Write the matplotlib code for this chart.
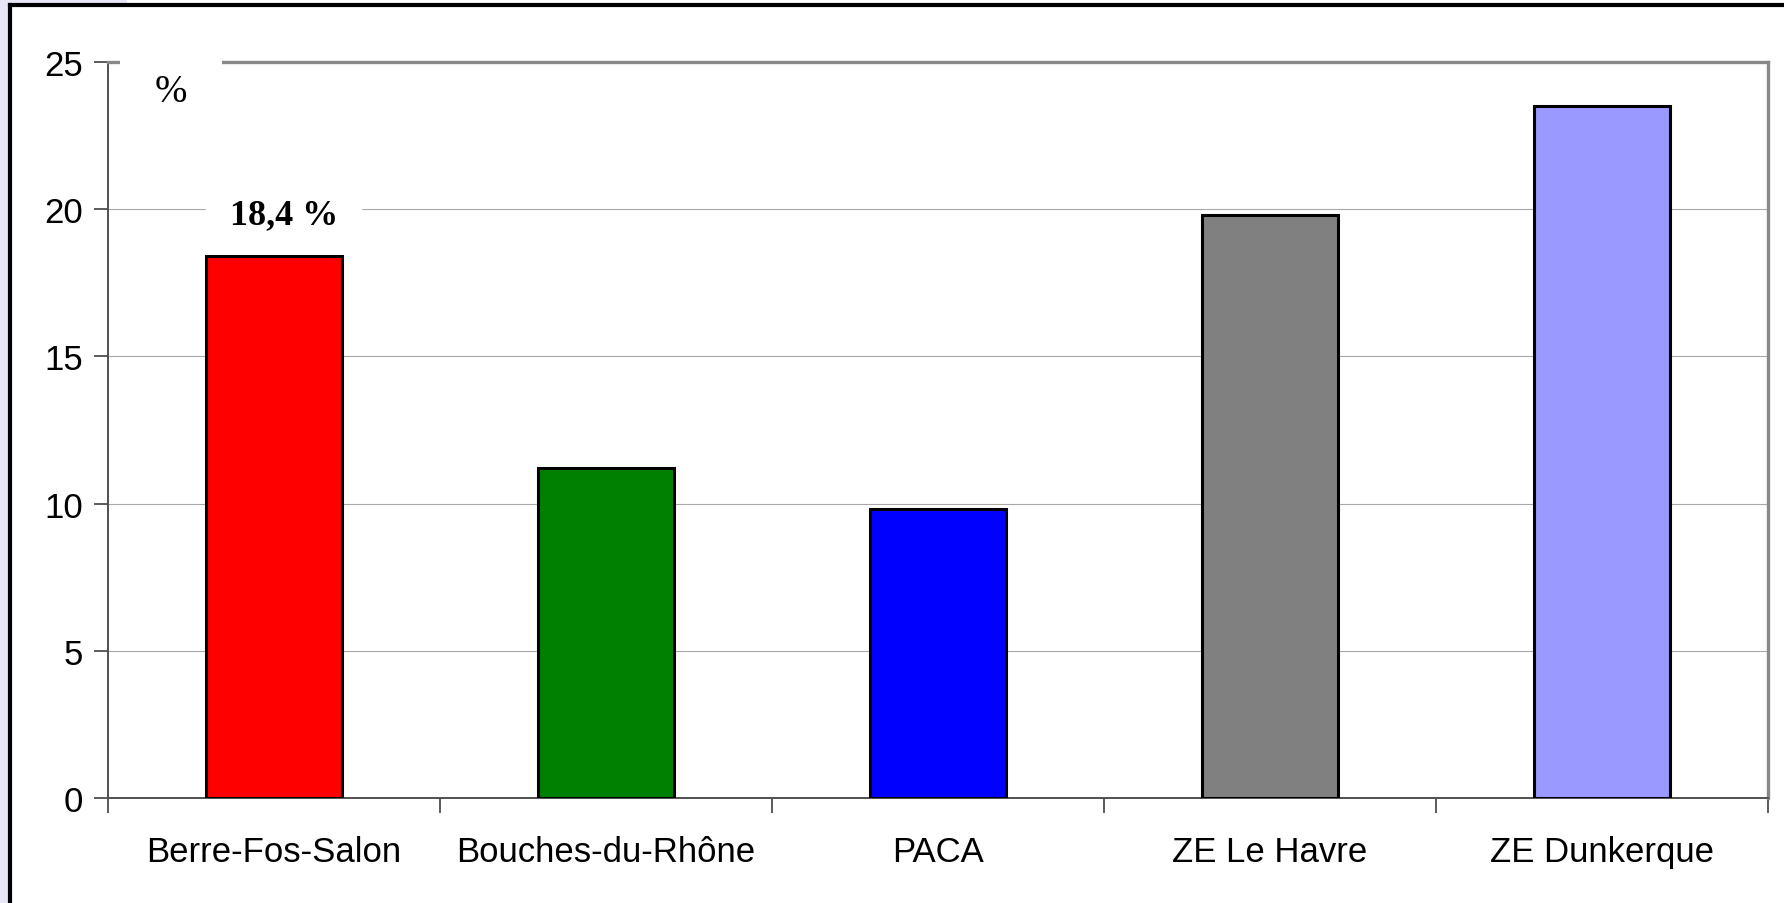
import matplotlib
matplotlib.use('Agg')
import matplotlib.pyplot as plt
from matplotlib.lines import Line2D
from matplotlib.patches import Rectangle

categories = ['Berre-Fos-Salon', 'Bouches-du-Rhône', 'PACA', 'ZE Le Havre', 'ZE Dunkerque']
values = [18.4, 11.2, 9.8, 19.8, 23.5]
colors = ['#FF0000', '#008000', '#0000FF', '#808080', '#9999FF']
yticks = [0, 5, 10, 15, 20, 25]

plt.rcParams['font.family'] = ['Liberation Sans', 'DejaVu Sans']

fig = plt.figure(figsize=(17.84, 9.04), dpi=100)
fig.patch.set_facecolor('white')

# lavender frame remnants and black border
fig.patches.append(Rectangle((0, 0), 8 / 1784, 1, transform=fig.transFigure,
                             facecolor='#E6E6F5', edgecolor='none', zorder=0))
fig.patches.append(Rectangle((0, 1 - 4 / 904), 127 / 1784, 4 / 904, transform=fig.transFigure,
                             facecolor='#E6E6F5', edgecolor='none', zorder=0))
fig.lines.append(Line2D([10 / 1784, 10 / 1784], [0, 1 - 5.5 / 904], transform=fig.transFigure,
                        color='black', linewidth=3, solid_capstyle='projecting'))
fig.lines.append(Line2D([10 / 1784, 1], [1 - 5.5 / 904, 1 - 5.5 / 904], transform=fig.transFigure,
                        color='black', linewidth=3, solid_capstyle='projecting'))

ax = fig.add_axes([108 / 1784, 1 - 799 / 904, (1768 - 108) / 1784, (799 - 63) / 904])
x = range(len(categories))
ax.bar(x, values, width=0.41, color=colors, edgecolor='black', linewidth=2.2, zorder=3)

ax.set_xlim(-0.5, len(categories) - 0.5)
ax.set_ylim(0, 25)
ax.set_yticks(yticks)
ax.set_yticklabels([str(t) for t in yticks], fontsize=25)
ax.set_xticks([i + 0.5 for i in range(-1, len(categories))])
ax.set_xticklabels([])
ax.set_xticks(list(x), minor=True)
ax.set_xticklabels(categories, minor=True, fontsize=25)
ax.tick_params(axis='x', which='minor', length=0, pad=27)
ax.tick_params(axis='x', which='major', length=11, width=1.2, color='#404040', direction='out')
ax.tick_params(axis='y', length=10, width=1.2, color='#404040', direction='out', pad=8)

ax.yaxis.grid(True, color='#A8A8A8', linewidth=0.8, zorder=0)
ax.set_axisbelow(True)
for side in ['left', 'bottom']:
    ax.spines[side].set_color('#505050')
    ax.spines[side].set_linewidth(1.4)
for side in ['top', 'right']:
    ax.spines[side].set_color('#888888')
    ax.spines[side].set_linewidth(2.4)

# unit label and data label with white boxes over the gridlines
ax.text(-0.31, 24.0, '%', fontsize=28, family='Liberation Serif', ha='center', va='center',
        bbox=dict(facecolor='white', edgecolor='none', pad=25), zorder=4)
ax.text(0.03, 19.8, '{:.1f} %'.format(values[0]).replace('.', ','), fontsize=26,
        family='Liberation Serif', fontweight='bold', ha='center', va='center',
        bbox=dict(facecolor='white', edgecolor='none', pad=17), zorder=4)

fig.savefig('out.png', dpi=100)
